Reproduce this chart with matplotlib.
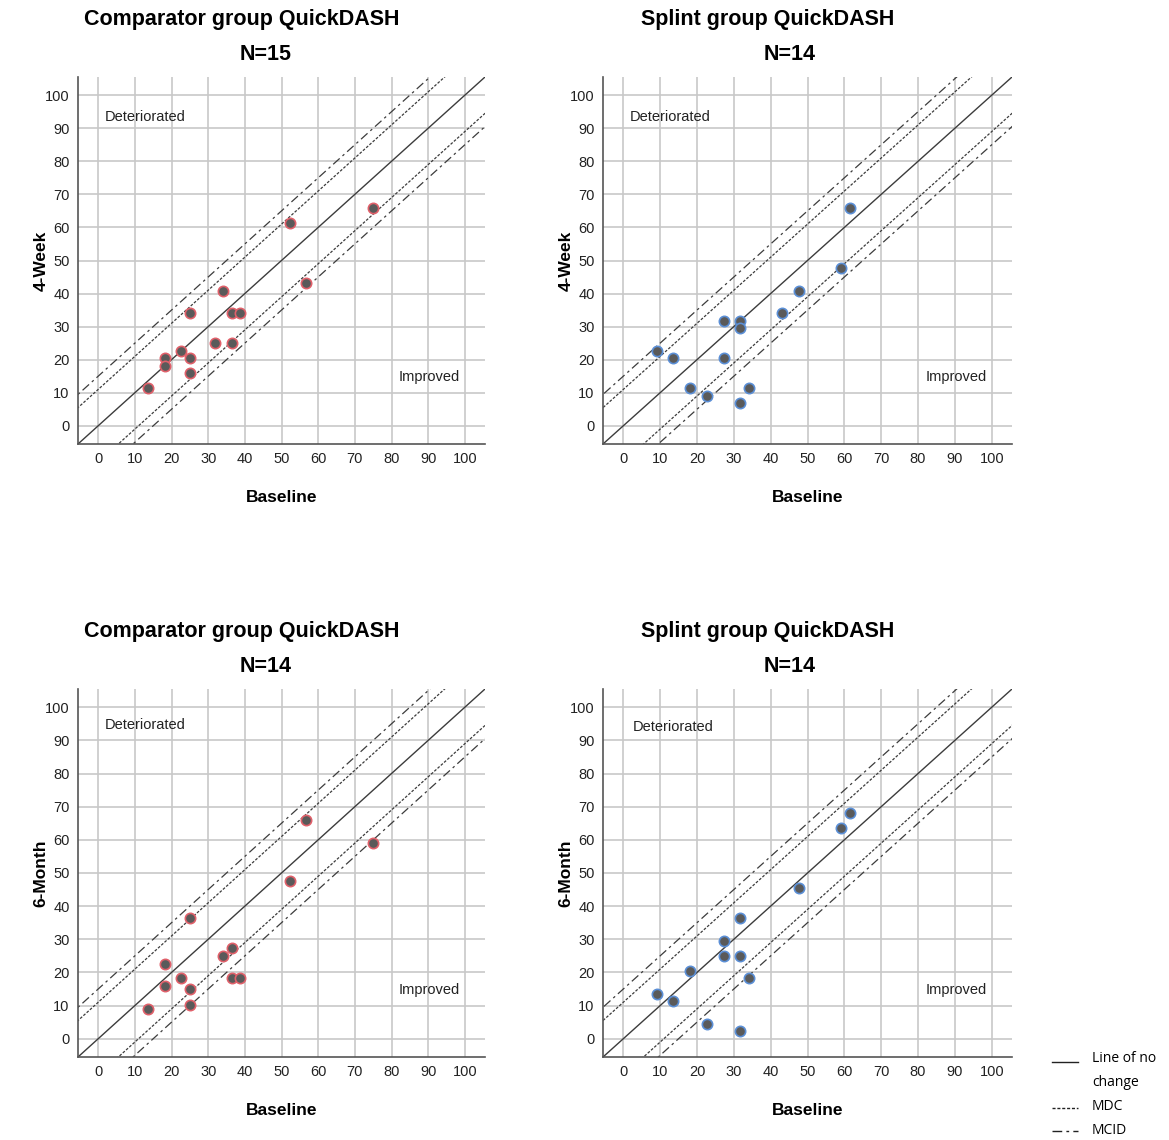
import numpy as np
import matplotlib
matplotlib.use("Agg")
import matplotlib.pyplot as plt
from matplotlib.lines import Line2D

plt.rcParams['font.family'] = ['Liberation Sans', 'DejaVu Sans']

# QuickDASH scores (baseline vs follow-up)
comp_4w_base = [13.6, 18.2, 18.2, 22.7, 25.0, 25.0, 25.0, 31.8, 34.1, 36.4, 36.4, 38.6, 52.3, 56.8, 75.0]
comp_4w_fu = [11.4, 20.5, 18.2, 22.7, 34.1, 20.5, 15.9, 25.0, 40.9, 34.1, 25.0, 34.1, 61.4, 43.2, 65.9]

splint_4w_base = [9.1, 13.6, 18.2, 22.7, 27.3, 27.3, 31.8, 31.8, 31.8, 34.1, 43.2, 47.7, 59.1, 61.4]
splint_4w_fu = [22.7, 20.5, 11.4, 9.1, 31.8, 20.5, 31.8, 29.5, 6.8, 11.4, 34.1, 40.9, 47.7, 65.9]

comp_6m_base = [13.6, 18.2, 18.2, 22.7, 25.0, 25.0, 25.0, 34.1, 36.4, 36.4, 38.6, 52.3, 56.8, 75.0]
comp_6m_fu = [9.1, 22.7, 15.9, 18.2, 36.4, 15.0, 10.2, 25.0, 27.3, 18.2, 18.2, 47.7, 65.9, 59.1]

splint_6m_base = [9.1, 13.6, 18.2, 22.7, 27.3, 27.3, 31.8, 31.8, 31.8, 34.1, 47.7, 59.1, 61.4]
splint_6m_fu = [13.6, 11.4, 20.5, 4.5, 29.5, 25.0, 36.4, 25.0, 2.3, 18.2, 45.5, 63.6, 68.2]

MDC = 11
MCID = 15

W, H = 1169, 1140
fig = plt.figure(figsize=(W / 100, H / 100), dpi=100)

line_col = '#3c3c3c'
mdc_style = (0, (2.2, 1.3))
mcid_style = (0, (7, 3, 2, 3))


def rect(x0, y0, x1, y1):
    return [x0 / W, 1 - y1 / H, (x1 - x0) / W, (y1 - y0) / H]


panels = [
    (rect(78, 77, 485, 444), comp_4w_base, comp_4w_fu, '#e0606a', '4-Week',
     'Comparator group QuickDASH', 'N=15', (242, 20), (266, 54), (1.8, 93.5)),
    (rect(603, 77, 1012, 444), splint_4w_base, splint_4w_fu, '#5b8fd6', '4-Week',
     'Splint group QuickDASH', 'N=14', (768, 20), (790, 54), (1.8, 93.5)),
    (rect(78, 689, 485, 1057), comp_6m_base, comp_6m_fu, '#e0606a', '6-Month',
     'Comparator group QuickDASH', 'N=14', (242, 632), (266, 667), (1.8, 94.5)),
    (rect(603, 689, 1012, 1057), splint_6m_base, splint_6m_fu, '#5b8fd6', '6-Month',
     'Splint group QuickDASH', 'N=14', (768, 632), (790, 667), (2.6, 94.0)),
]

lo, hi = -5.5, 105.5
xx = np.array([lo - 30, hi + 30])

for pos, bx, fy, ecol, ylab, title, ntxt, tpos, npos, detpos in panels:
    ax = fig.add_axes(pos)
    ax.set_xlim(lo, hi)
    ax.set_ylim(lo, hi)
    ticks = np.arange(0, 101, 10)
    ax.set_xticks(ticks)
    ax.set_yticks(ticks)
    ax.grid(True, color='#c8c8c8', lw=1.2)
    ax.set_axisbelow(True)
    ax.tick_params(length=0, labelsize=10.5, colors='#222222')
    ax.tick_params(axis='y', pad=6)
    ax.tick_params(axis='x', pad=6)
    for s in ['top', 'right']:
        ax.spines[s].set_visible(False)
    for s in ['left', 'bottom']:
        ax.spines[s].set_color('#555555')
        ax.spines[s].set_linewidth(1.2)

    ax.plot(xx, xx, color=line_col, lw=1.0)
    for d in (MDC, -MDC):
        ax.plot(xx, xx + d, color=line_col, lw=0.9, linestyle=mdc_style)
    for d in (MCID, -MCID):
        ax.plot(xx, xx + d, color=line_col, lw=0.9, linestyle=mcid_style)

    ax.scatter(bx, fy, s=55, color='#5a5a5a', edgecolors=ecol, linewidths=1.2, zorder=5)

    ax.text(detpos[0], detpos[1], 'Deteriorated', fontsize=10.5, ha='left', va='center', color='#222222')
    ax.text(98.7, 14.8, 'Improved', fontsize=10.5, ha='right', va='center', color='#222222')

    ax.set_xlabel('Baseline', fontsize=12.5, fontweight='bold')
    ax.set_ylabel(ylab, fontsize=12.5, fontweight='bold')
    ax.xaxis.set_label_coords(0.5, -0.125)
    ax.yaxis.set_label_coords(-0.072, 0.5)

    fig.text(tpos[0] / W, 1 - tpos[1] / H, title, fontsize=15.5, fontweight='bold',
             ha='center', va='center')
    fig.text(npos[0] / W, 1 - npos[1] / H, ntxt, fontsize=15.5, fontweight='bold',
             ha='center', va='center')

# legend
leg_font = ['Open Sans', 'DejaVu Sans']
entries = [('-', 1062, 'Line of no', 1058), (mdc_style, 1108, 'MDC', 1106),
           (mcid_style, 1131, 'MCID', 1130)]
for ls, ly, txt, ty in entries:
    fig.add_artist(Line2D([1052 / W, 1078 / W], [1 - ly / H, 1 - ly / H],
                          color='#222222', lw=1.0, linestyle=ls))
    fig.text(1092 / W, 1 - ty / H, txt, fontsize=10, family=leg_font, ha='left', va='center')
fig.text(1092 / W, 1 - 1082 / H, 'change', fontsize=10, family=leg_font, ha='left', va='center')

fig.savefig('out.png', dpi=100)
